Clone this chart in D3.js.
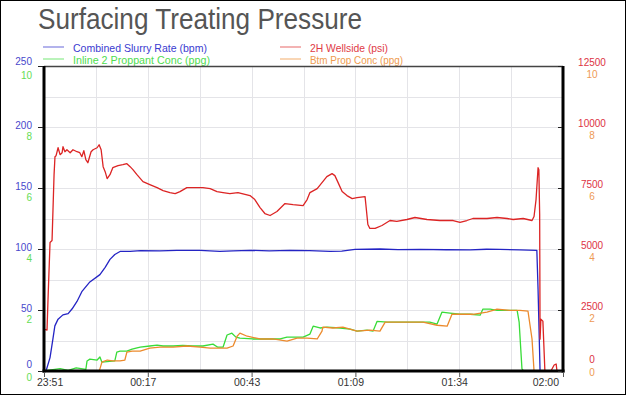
<!DOCTYPE html>
<html>
<head>
<meta charset="utf-8">
<script src="https://cdn.jsdelivr.net/npm/d3@7"></script>
<style>
  body { margin: 0; background: #fff; }
  svg { display: block; font-family: "Liberation Sans", Arial, Helvetica, sans-serif; }
</style>
</head>
<body>
<svg id="chart" width="626" height="395"></svg>
<script>
// time axis: minutes elapsed since the first sample
const START = new Date(2024, 0, 1, 23, 51, 42);
const SPAN_MIN = 129;

// [minutes, bpm]
const slurryRate = [
  [0, 0], [0.5, 0], [1.5, 11], [2.2, 26], [2.7, 37], [3.5, 42.5], [4.7, 46], [6.0, 47],
  [7.0, 51], [8.2, 57], [9.4, 65], [11.4, 73], [13.9, 79], [15.2, 85], [16.4, 91.5],
  [17.6, 95.5], [18.9, 98], [21.4, 98], [24, 98.6], [28.8, 98.4], [33, 98.8], [38.8, 98.9],
  [43.7, 98], [47, 98.4], [51.2, 98.9], [56, 98.5], [61.1, 98.9], [66, 98.6], [71.1, 98],
  [74, 98.3], [77.3, 99.7], [83.5, 100], [88, 99.5], [93.5, 99.7], [100, 99.4], [105.9, 99.3],
  [110, 99.8], [113.3, 99.7], [118.3, 99.3], [122.5, 98.9], [122.8, 67], [123.3, 0], [129, 0]
];

// [minutes, psi]
const wellside = [
  [0, 1716], [0.75, 1675], [1.0, 2941], [1.5, 5270], [2.0, 5351], [2.5, 8047], [2.73, 8783],
  [3.0, 8824], [3.5, 9150], [4.0, 8865], [4.5, 8946], [4.72, 9191], [5.2, 8987], [5.7, 9069],
  [6.5, 8946], [7.2, 9069], [8.2, 8987], [8.9, 8946], [9.4, 8783], [9.9, 9028], [10.4, 8660],
  [10.9, 8537], [11.7, 8987], [12.2, 9069], [13.2, 9150], [13.7, 9273], [14.2, 9069],
  [14.7, 8374], [15.2, 8170], [15.7, 7884], [16.4, 8047], [17.1, 8333], [18.4, 8415],
  [19.6, 8456], [20.6, 8497], [21.4, 8374], [22.1, 8251], [23.1, 8047], [24.6, 7762],
  [26.3, 7639], [28.1, 7516], [29.6, 7394], [31.3, 7312], [32.6, 7271], [33.8, 7353],
  [35.5, 7516], [37.0, 7516], [39.5, 7516], [41.3, 7476], [43.0, 7353], [44.5, 7312],
  [46.2, 7271], [48.2, 7312], [51.2, 7190], [52.4, 7026], [53.7, 6699], [54.9, 6454],
  [56.2, 6373], [57.9, 6536], [59.9, 6863], [61.9, 6822], [64.4, 6781], [65.4, 7026],
  [66.1, 7312], [67.9, 7476], [69.1, 7721], [70.3, 7966], [71.6, 8088], [72.3, 8007],
  [73.1, 7721], [74.1, 7353], [75.3, 7190], [76.6, 7067], [77.8, 7108], [79.8, 7149],
  [80.0, 6822], [80.5, 6005], [81.0, 5842], [82.3, 5842], [84.0, 5964], [86.0, 6168],
  [87.7, 6128], [90.2, 6209], [92.2, 6291], [95.2, 6209], [98.4, 6168], [101.7, 6168],
  [103.4, 6087], [105.1, 6168], [106.6, 6250], [110.1, 6250], [112.6, 6291], [115.1, 6250],
  [116.6, 6209], [119.1, 6250], [121.3, 6168], [121.8, 6332], [122.3, 7026], [122.8, 8333],
  [123.0, 8251], [123.2, 6414], [123.3, 1307], [123.5, 2124], [124.0, 2043], [124.5, 0],
  [126.0, 0], [126.8, 245], [127.3, 286], [127.5, 0], [129, 0]
];

// [minutes, ppg]
const inlineConc = [
  [0, 0], [4, 0.08], [6, 0.02], [8, 0.1], [10.4, 0.05], [10.7, 0.33], [11.4, 0.39],
  [13.2, 0.36], [13.9, 0.46], [14.4, 0.29], [17.6, 0.33], [18.1, 0.62], [18.9, 0.65],
  [20.6, 0.65], [21.9, 0.72], [23.9, 0.78], [26.3, 0.82], [28.1, 0.85], [29.6, 0.82],
  [32.1, 0.82], [34.5, 0.84], [37.0, 0.82], [39.5, 0.82], [42.0, 0.88], [43.2, 0.78],
  [44.5, 0.78], [45.5, 1.18], [46.7, 1.24], [47.7, 1.11], [48.7, 1.08], [51.9, 1.05],
  [55.4, 1.05], [58.7, 1.05], [60.4, 1.11], [63.6, 1.11], [64.4, 1.11], [66.1, 1.21],
  [66.9, 1.47], [68.6, 1.41], [70.3, 1.44], [73.6, 1.41], [76.1, 1.37], [77.8, 1.31],
  [80.3, 1.34], [81.8, 1.31], [82.8, 1.63], [85.3, 1.6], [87.7, 1.6], [90.2, 1.6],
  [93.5, 1.6], [95.9, 1.6], [97.7, 1.54], [98.9, 1.93], [100.9, 1.9], [103.4, 1.86],
  [105.9, 1.86], [108.4, 1.83], [109.1, 2.03], [110.9, 2.03], [112.6, 1.99], [115.1, 1.99],
  [117.6, 1.99], [118.1, 1.6], [118.8, 0.07], [119.2, 0], [121.6, 0]
];

// [minutes, ppg]
const btmConc = [
  [0, 0], [13.7, 0], [13.9, 0.07], [14.4, 0.29], [15.7, 0.36], [17.1, 0.33], [18.9, 0.33],
  [20.1, 0.36], [20.6, 0.62], [21.9, 0.65], [23.9, 0.65], [26.3, 0.75], [28.8, 0.78],
  [32.1, 0.78], [35.5, 0.82], [38.8, 0.78], [41.3, 0.75], [43.7, 0.75], [45.5, 0.75],
  [47.0, 0.82], [48.0, 1.14], [48.7, 1.24], [50.5, 1.14], [53.7, 1.05], [56.9, 1.05],
  [60.4, 0.98], [62.9, 1.08], [65.4, 1.08], [67.9, 1.05], [69.1, 1.31], [69.3, 1.44],
  [71.8, 1.41], [74.3, 1.44], [77.8, 1.31], [81.0, 1.34], [83.5, 1.31], [84.8, 1.6],
  [87.7, 1.6], [91.0, 1.6], [94.2, 1.6], [97.7, 1.5], [100.2, 1.47], [101.4, 1.86],
  [103.4, 1.86], [106.6, 1.86], [110.1, 1.93], [111.6, 1.99], [112.6, 2.03], [115.8, 1.99],
  [118.3, 1.99], [120.3, 1.96], [121.3, 1.05], [121.8, 0], [129, 0]
];

const rateTicks = [0, 50, 100, 150, 200, 250];
const concTicks = [0, 2, 4, 6, 8, 10];
const psiTicks = [0, 2500, 5000, 7500, 10000, 12500];

const legendItems = [
  { label: "Combined Slurry Rate (bpm)", color: "#2a2ac8", text: "#3b3bd0", col: 0, row: 0, len: 134 },
  { label: "Inline 2 Proppant Conc (ppg)", color: "#3ddc3d", text: "#4fdc4f", col: 0, row: 1, len: 137 },
  { label: "2H Wellside (psi)", color: "#dd2a2a", text: "#e03a46", col: 1, row: 0, len: 78 },
  { label: "Btm Prop Conc (ppg)", color: "#ee8c2e", text: "#ee9a4e", col: 1, row: 1, len: 93 }
];

const svg = d3.select("#chart");
const W = 626, H = 395;
const m = { left: 44, right: 563, top: 66, bottom: 371 };

const toDate = min => new Date(START.getTime() + min * 60000);
const END = toDate(SPAN_MIN);

const x = d3.scaleTime().domain([START, END]).range([m.left, m.right]);
const yRate = d3.scaleLinear().domain([0, 250]).range([m.bottom, m.top]);
const yConc = d3.scaleLinear().domain([0, 10]).range([m.bottom, m.top]);
const yPsi = d3.scaleLinear().domain([0, 12500]).range([m.bottom, m.top]);

svg.append("rect").attr("x", 0.5).attr("y", 0.5).attr("width", W - 1).attr("height", H - 1)
  .attr("fill", "#fff").attr("stroke", "#000");

// title
svg.append("text").attr("x", 38).attr("y", 29)
  .attr("font-size", 29).attr("fill", "#555")
  .attr("textLength", 324).attr("lengthAdjust", "spacingAndGlyphs")
  .text("Surfacing Treating Pressure");

// legend
const lg = svg.append("g");
legendItems.forEach(d => {
  const lx = d.col === 0 ? 43 : 280;
  const ly = d.row === 0 ? 47 : 59;
  lg.append("line").attr("x1", lx).attr("x2", lx + 21).attr("y1", ly).attr("y2", ly)
    .attr("stroke", d.color).attr("stroke-opacity", 0.55).attr("stroke-width", 1.3);
  lg.append("text").attr("x", lx + 30).attr("y", d.row === 0 ? 51.6 : 64.1)
    .attr("font-size", 11.2).attr("fill", d.text)
    .attr("textLength", d.len).attr("lengthAdjust", "spacingAndGlyphs")
    .text(d.label);
});

// grid
const halfStep = SPAN_MIN / 10;
const vGrid = d3.range(11).map(i => toDate(i * halfStep));
const grid = svg.append("g").attr("stroke", "#e4e4e8").attr("stroke-width", 1);
grid.selectAll(".h").data(d3.range(0, 251, 25)).join("line")
  .attr("x1", m.left).attr("x2", m.right)
  .attr("y1", d => Math.round(yRate(d)) + 0.5).attr("y2", d => Math.round(yRate(d)) + 0.5);
grid.selectAll(".v").data(vGrid).join("line")
  .attr("y1", m.top).attr("y2", m.bottom)
  .attr("x1", d => Math.round(x(d)) + 0.5).attr("x2", d => Math.round(x(d)) + 0.5);

// series
const plot = svg.append("g");
function drawSeries(data, y, color) {
  const line = d3.line().x(d => x(toDate(d[0]))).y(d => y(d[1]));
  plot.append("path").datum(data).attr("d", line)
    .attr("fill", "none").attr("stroke", color).attr("stroke-width", 1.3)
    .attr("stroke-linejoin", "round");
}
drawSeries(slurryRate, yRate, "#2424c4");
drawSeries(inlineConc, yConc, "#38dc38");
drawSeries(btmConc, yConc, "#ec8a2c");
drawSeries(wellside, yPsi, "#dc2424");

// frame
svg.append("line").attr("x1", m.left).attr("x2", m.right).attr("y1", m.top + 0.5).attr("y2", m.top + 0.5)
  .attr("stroke", "#444").attr("stroke-width", 1.3);
svg.append("line").attr("x1", m.left).attr("x2", m.left).attr("y1", m.top).attr("y2", m.bottom + 1.5)
  .attr("stroke", "#000").attr("stroke-width", 3);
svg.append("line").attr("x1", m.right).attr("x2", m.right).attr("y1", m.top).attr("y2", m.bottom + 1.5)
  .attr("stroke", "#000").attr("stroke-width", 3);
svg.append("line").attr("x1", m.left - 1.5).attr("x2", m.right + 1.5).attr("y1", m.bottom).attr("y2", m.bottom)
  .attr("stroke", "#000").attr("stroke-width", 3);

// axis tick marks
svg.append("g").attr("transform", `translate(${m.left - 1},0)`)
  .call(d3.axisLeft(yRate).tickValues(rateTicks).tickSize(5).tickFormat(""))
  .call(g => g.select(".domain").remove())
  .call(g => g.selectAll("line").attr("stroke", "#222"));
svg.append("g").attr("transform", `translate(${m.right - 1},0)`)
  .call(d3.axisLeft(yPsi).tickValues(psiTicks).tickSize(4).tickFormat(""))
  .call(g => g.select(".domain").remove())
  .call(g => g.selectAll("line").attr("stroke", "#222"));
const xTicks = d3.range(6).map(i => toDate(i * SPAN_MIN / 5));
svg.append("g").attr("transform", `translate(0,${m.bottom + 1})`)
  .call(d3.axisBottom(x).tickValues(xTicks).tickSize(5).tickFormat(""))
  .call(g => g.select(".domain").remove())
  .call(g => g.selectAll("line").attr("stroke", "#555"));

// axis labels
const fmt = d3.timeFormat("%H:%M");
const lab = svg.append("g").attr("font-size", 10);
lab.selectAll(".xl").data(xTicks).join("text")
  .attr("font-size", 10.5)
  .attr("x", (d, i) => i === 0 ? x(d) - 7 : i === xTicks.length - 1 ? x(d) - 4 : x(d) - 4.5)
  .attr("y", m.bottom + 15)
  .attr("text-anchor", (d, i) => i === 0 ? "start" : i === xTicks.length - 1 ? "end" : "middle")
  .attr("fill", "#333").text(fmt);

const lastI = rateTicks.length - 1;
lab.selectAll(".bl").data(rateTicks).join("text")
  .attr("x", 32).attr("text-anchor", "end").attr("dy", "0.35em")
  .attr("y", (d, i) => yRate(d) + (i === 0 ? -7 : i === lastI ? -4.5 : -1.8))
  .attr("fill", "#4848cc").text(d => d);
lab.selectAll(".gl").data(concTicks).join("text")
  .attr("x", 32).attr("text-anchor", "end").attr("dy", "0.35em")
  .attr("y", (d, i) => yConc(d) + (i === 0 ? 6.5 : 9.4))
  .attr("fill", "#66dd55").text(d => d);
lab.selectAll(".rl").data(psiTicks).join("text")
  .attr("x", 592).attr("text-anchor", "middle").attr("dy", "0.35em")
  .attr("y", (d, i) => yPsi(d) + (i === 0 ? -11.5 : -3.5))
  .attr("fill", "#dd3344").text(d => d);
lab.selectAll(".ol").data(concTicks).join("text")
  .attr("x", 592).attr("text-anchor", "middle").attr("dy", "0.35em")
  .attr("y", (d, i) => yConc(d) + (i === 0 ? 1.8 : 8.1))
  .attr("fill", "#ee9a55").text(d => d);
</script>
</body>
</html>
